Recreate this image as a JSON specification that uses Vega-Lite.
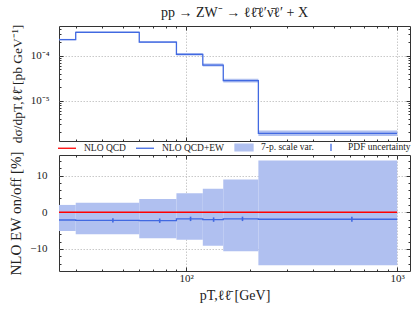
{
  "$schema": "https://vega.github.io/schema/vega-lite/v6.json",
  "padding": {"left": 8, "top": 5, "right": 0, "bottom": 2},
  "spacing": 6,
  "config": {
    "font": "Liberation Serif",
    "view": {"stroke": "#333", "strokeWidth": 1},
    "axis": {"domain": false, "labelFont": "Liberation Serif", "titleFont": "Liberation Serif", "labelColor": "#222", "titleColor": "#222", "titleFontWeight": "normal", "labelFontSize": 11, "titleFontSize": 13.5, "tickColor": "#333", "labelPadding": 14, "gridColor": "#bbb", "gridDash": [1.5, 1.5], "gridWidth": 0.8},
    "legend": {"labelFont": "Liberation Serif", "labelFontSize": 9.5, "labelColor": "#222", "padding": 0},
    "title": {"font": "Liberation Serif", "fontWeight": "normal", "fontSize": 14, "color": "#222"}
  },
  "datasets": {
    "bins": [
      {"lo": 25, "hi": 30, "mid": 27.5, "ew": 2.27e-4, "bhi": 2.365e-4, "blo": 2.200e-4, "r": -2.1, "rup": 2.0, "rlo": -5.1, "pup": null, "plo": null},
      {"lo": 30, "hi": 60, "mid": 45, "ew": 3.31e-4, "bhi": 3.473e-4, "blo": 3.181e-4, "r": -2.2, "rup": 2.6, "rlo": -6.0, "pup": -1.6, "plo": -2.8},
      {"lo": 60, "hi": 90, "mid": 75, "ew": 2.01e-4, "bhi": 2.131e-4, "blo": 1.911e-4, "r": -2.3, "rup": 3.6, "rlo": -7.1, "pup": -1.7, "plo": -2.9},
      {"lo": 90, "hi": 120, "mid": 105, "ew": 1.07e-4, "bhi": 1.146e-4, "blo": 1.008e-4, "r": -1.8, "rup": 5.2, "rlo": -7.5, "pup": -1.2, "plo": -2.4},
      {"lo": 120, "hi": 150, "mid": 135, "ew": 6.2e-5, "bhi": 6.731e-5, "blo": 5.751e-5, "r": -2.0, "rup": 6.4, "rlo": -9.1, "pup": -1.4, "plo": -2.6},
      {"lo": 150, "hi": 220, "mid": 185, "ew": 2.78e-5, "bhi": 3.083e-5, "blo": 2.531e-5, "r": -1.8, "rup": 8.9, "rlo": -10.6, "pup": -1.2, "plo": -2.4},
      {"lo": 220, "hi": 1000, "mid": 610, "ew": 1.88e-6, "bhi": 2.187e-6, "blo": 1.640e-6, "r": -1.9, "rup": 14.1, "rlo": -14.4, "pup": -1.2, "plo": -2.6}
    ],
    "steps": [
      {"x": 25, "ew": 2.27e-4, "r": -2.1, "qcd": 0},
      {"x": 30, "ew": 3.31e-4, "r": -2.2, "qcd": 0},
      {"x": 60, "ew": 2.01e-4, "r": -2.3, "qcd": 0},
      {"x": 90, "ew": 1.07e-4, "r": -1.8, "qcd": 0},
      {"x": 120, "ew": 6.2e-5, "r": -2.0, "qcd": 0},
      {"x": 150, "ew": 2.78e-5, "r": -1.8, "qcd": 0},
      {"x": 220, "ew": 1.88e-6, "r": -1.9, "qcd": 0},
      {"x": 1000, "ew": 1.88e-6, "r": -1.9, "qcd": 0}
    ]
  },
  "vconcat": [
    {
      "width": 351,
      "height": 115,
      "title": {"text": "pp → ZW⁻ → ℓℓ̄ℓ′ν̄ℓ′ + X", "offset": 4},
      "resolve": {"axis": {"x": "independent", "y": "independent"}},
      "layer": [
        {
          "data": {"name": "bins"},
          "mark": {"type": "rect", "color": "#b0c0f0", "opacity": 1},
          "encoding": {
            "x": {"field": "lo", "type": "quantitative", "scale": {"type": "log", "domain": [25, 1150], "nice": false},
              "axis": {"orient": "bottom", "values": [30,40,50,60,70,80,90,100,200,300,400,500,600,700,800,900,1000], "labels": false, "title": null, "grid": true, "minExtent": 0, "maxExtent": 0,
                "gridOpacity": {"condition": {"test": "datum.value == 100 || datum.value == 1000", "value": 1}, "value": 0},
                "tickSize": {"condition": {"test": "datum.value == 100 || datum.value == 1000", "value": -4}, "value": -2}}},
            "x2": {"field": "hi"},
            "y": {"field": "blo", "type": "quantitative", "scale": {"type": "log", "domain": [1.27e-6, 4.57e-4], "nice": false},
              "axis": {"orient": "left", "title": "dσ/dpT,ℓℓ̄ [pb GeV⁻¹]", "titleFontSize": 13.5, "titlePadding": 6,
                "values": [2e-6,3e-6,4e-6,5e-6,6e-6,7e-6,8e-6,9e-6,1e-5,2e-5,3e-5,4e-5,5e-5,6e-5,7e-5,8e-5,9e-5,1e-4,2e-4,3e-4,4e-4],
                "labelExpr": "datum.value == 1e-4 ? '10⁻⁴' : (datum.value == 1e-5 ? '10⁻⁵' : '')", "grid": true,
                "gridOpacity": {"condition": {"test": "datum.value == 1e-4 || datum.value == 1e-5", "value": 1}, "value": 0},
                "tickSize": {"condition": {"test": "datum.value == 1e-4 || datum.value == 1e-5", "value": -4}, "value": -2}}},
            "y2": {"field": "bhi"}
          }
        },
        {
          "data": {"name": "steps"},
          "mark": {"type": "line", "interpolate": "step-after", "color": "#4169e1", "strokeWidth": 1.3},
          "encoding": {
            "x": {"field": "x", "type": "quantitative",
              "axis": {"orient": "top", "values": [30,40,50,60,70,80,90,100,200,300,400,500,600,700,800,900,1000], "labels": false, "title": null, "grid": false, "minExtent": 0, "maxExtent": 0,
                "tickSize": {"condition": {"test": "datum.value == 100 || datum.value == 1000", "value": -4}, "value": -2}}},
            "y": {"field": "ew", "type": "quantitative",
              "axis": {"orient": "right", "values": [2e-6,3e-6,4e-6,5e-6,6e-6,7e-6,8e-6,9e-6,1e-5,2e-5,3e-5,4e-5,5e-5,6e-5,7e-5,8e-5,9e-5,1e-4,2e-4,3e-4,4e-4], "labels": false, "title": null, "grid": false, "minExtent": 0, "maxExtent": 0,
                "tickSize": {"condition": {"test": "datum.value == 1e-4 || datum.value == 1e-5", "value": -4}, "value": -2}}}
          }
        }
      ]
    },
    {
      "width": 351,
      "height": 116,
      "resolve": {"axis": {"x": "independent", "y": "independent"}},
      "layer": [
        {
          "data": {"name": "bins"},
          "mark": {"type": "rect", "opacity": 1},
          "encoding": {
            "x": {"field": "lo", "type": "quantitative", "scale": {"type": "log", "domain": [25, 1150], "nice": false},
              "axis": {"orient": "bottom", "values": [30,40,50,60,70,80,90,100,200,300,400,500,600,700,800,900,1000],
                "labelExpr": "datum.value == 100 ? '10²' : (datum.value == 1000 ? '10³' : '')", "labelPadding": 5, "title": "pT,ℓℓ̄ [GeV]", "titleFontSize": 14, "titlePadding": 5, "grid": true,
                "gridOpacity": {"condition": {"test": "datum.value == 100 || datum.value == 1000", "value": 1}, "value": 0},
                "tickSize": {"condition": {"test": "datum.value == 100 || datum.value == 1000", "value": -4}, "value": -2}}},
            "x2": {"field": "hi"},
            "y": {"field": "rlo", "type": "quantitative", "scale": {"domain": [-16, 15.6], "nice": false, "zero": false},
              "axis": {"orient": "left", "title": "NLO EW on/off [%]", "titleFontSize": 15, "titlePadding": 6, "labelPadding": 16,
                "values": [-14,-12,-10,-8,-6,-4,-2,0,2,4,6,8,10,12,14],
                "labelExpr": "datum.value == 10 ? '10' : (datum.value == 0 ? '0' : (datum.value == -10 ? '−10' : ''))", "grid": true,
                "gridOpacity": {"condition": {"test": "datum.value == 10 || datum.value == 0 || datum.value == -10", "value": 1}, "value": 0},
                "tickSize": {"condition": {"test": "datum.value == 10 || datum.value == 0 || datum.value == -10", "value": -4}, "value": -2}}},
            "y2": {"field": "rup"},
            "color": {"datum": "7-p. scale var.", "type": "nominal",
              "scale": {"domain": ["NLO QCD", "NLO QCD+EW", "7-p. scale var.", "PDF uncertainty"], "range": ["#ff0000", "#4169e1", "#b0c0f0", "#4169e1"]},
              "legend": {"orient": "none", "legendX": -2, "legendY": 111, "direction": "horizontal", "columns": 4, "title": null,
                "symbolSize": 324, "labelOffset": 7, "columnPadding": 7, "symbolStrokeWidth": 1.3,
                "symbolType": {"expr": "datum.value == '7-p. scale var.' ? 'M-1,-0.38H1V0.38H-1Z' : (datum.value == 'PDF uncertainty' ? 'M0,-0.4V0.4' : 'M-1,0H1')"},
                "symbolFillColor": {"expr": "datum.value == '7-p. scale var.' ? '#b0c0f0' : 'transparent'"},
                "symbolStrokeColor": {"expr": "datum.value == 'NLO QCD' ? '#ff0000' : (datum.value == '7-p. scale var.' ? 'transparent' : '#4169e1')"}}
            }
          }
        },
        {
          "data": {"name": "steps"},
          "mark": {"type": "line", "interpolate": "step-after", "strokeWidth": 1.3},
          "encoding": {
            "x": {"field": "x", "type": "quantitative",
              "axis": {"orient": "top", "values": [30,40,50,60,70,80,90,100,200,300,400,500,600,700,800,900,1000], "labels": false, "title": null, "grid": false, "minExtent": 0, "maxExtent": 0,
                "tickSize": {"condition": {"test": "datum.value == 100 || datum.value == 1000", "value": -4}, "value": -2}}},
            "y": {"field": "r", "type": "quantitative",
              "axis": {"orient": "right", "values": [-14,-12,-10,-8,-6,-4,-2,0,2,4,6,8,10,12,14], "labels": false, "title": null, "grid": false, "minExtent": 0, "maxExtent": 0,
                "tickSize": {"condition": {"test": "datum.value == 10 || datum.value == 0 || datum.value == -10", "value": -4}, "value": -2}}},
            "color": {"datum": "NLO QCD+EW", "type": "nominal"}
          }
        },
        {
          "data": {"name": "steps"},
          "mark": {"type": "line", "interpolate": "step-after", "strokeWidth": 1.5},
          "encoding": {
            "x": {"field": "x", "type": "quantitative", "axis": null},
            "y": {"field": "qcd", "type": "quantitative", "axis": null},
            "color": {"datum": "NLO QCD", "type": "nominal"}
          }
        },
        {
          "data": {"name": "bins"},
          "transform": [{"filter": "datum.pup != null"}],
          "mark": {"type": "rule", "strokeWidth": 1.6},
          "encoding": {
            "x": {"field": "mid", "type": "quantitative", "axis": null},
            "y": {"field": "plo", "type": "quantitative", "axis": null},
            "y2": {"field": "pup"},
            "color": {"datum": "PDF uncertainty", "type": "nominal"}
          }
        }
      ]
    }
  ]
}
